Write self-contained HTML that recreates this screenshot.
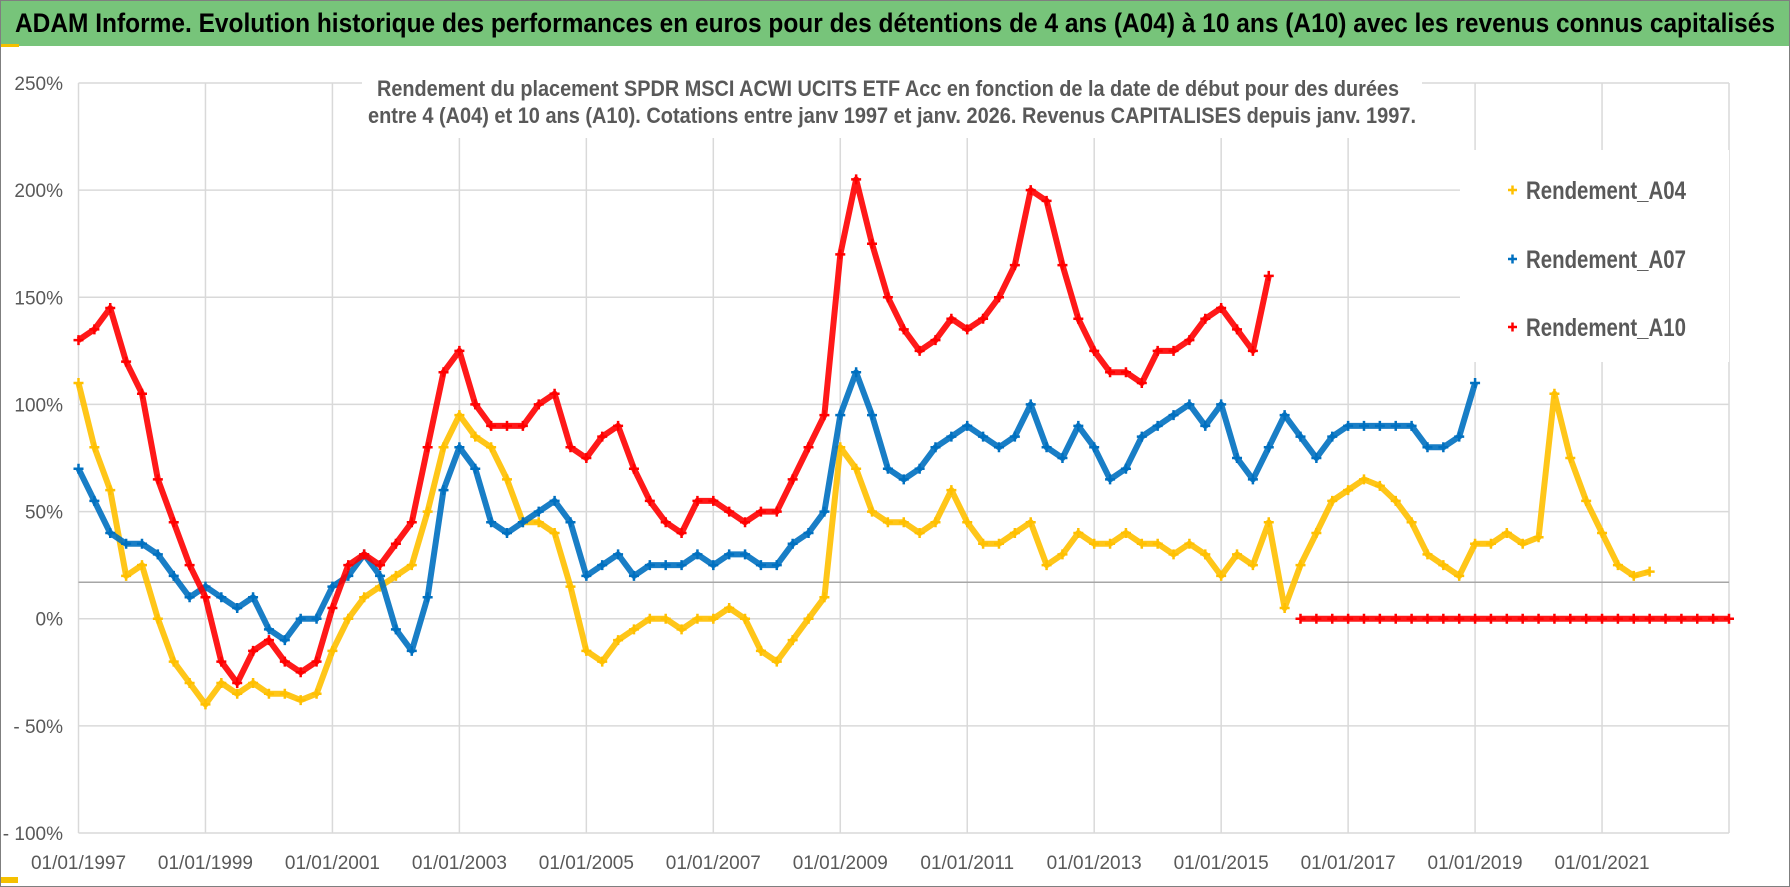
<!DOCTYPE html>
<html><head><meta charset="utf-8">
<style>
html,body{margin:0;padding:0;background:#fff;}
svg{display:block;font-family:"Liberation Sans Narrow","Liberation Sans",sans-serif;}
</style></head>
<body>
<svg id="chart" width="1790" height="887" viewBox="0 0 1790 887">
<rect x="0.5" y="0.5" width="1789" height="886" fill="#fff" stroke="#7f7f7f"/>
<rect x="1" y="1" width="1788" height="45" fill="#77c47a"/>
<rect x="1" y="44" width="18" height="3" fill="#f5c000"/>
<text x="895" y="32" text-anchor="middle" font-size="27" font-weight="bold" fill="#000" textLength="1760" lengthAdjust="spacingAndGlyphs">ADAM Informe. Evolution historique des performances en euros pour des détentions de 4 ans (A04) à 10 ans (A10) avec les revenus connus capitalisés</text>
<rect x="1" y="877" width="17" height="6" fill="#f5c000"/>
<g id="grid"></g>
<g id="series"></g>
<rect x="362" y="72" width="1060" height="66" fill="#fff"/>
<text x="888" y="96" text-anchor="middle" font-size="22" font-weight="bold" fill="#595959" textLength="1022" lengthAdjust="spacingAndGlyphs">Rendement du placement SPDR MSCI ACWI UCITS ETF Acc en fonction de la date de début pour des durées</text>
<text x="892" y="123" text-anchor="middle" font-size="22" font-weight="bold" fill="#595959" textLength="1048" lengthAdjust="spacingAndGlyphs">entre 4 (A04) et 10 ans (A10). Cotations entre janv 1997 et janv. 2026. Revenus CAPITALISES depuis janv. 1997.</text>
<g id="legend"></g>
</svg>
<script>
const NS="http://www.w3.org/2000/svg";
const yTicks=[250,200,150,100,50,0,-50,-100];
const yTickLabels=["250%","200%","150%","100%","50%","0%","- 50%","- 100%"];
const xTicks=[1997,1999,2001,2003,2005,2007,2009,2011,2013,2015,2017,2019,2021,2023];
const xTickLabels=["01/01/1997","01/01/1999","01/01/2001","01/01/2003","01/01/2005","01/01/2007","01/01/2009","01/01/2011","01/01/2013","01/01/2015","01/01/2017","01/01/2019","01/01/2021",""];
const refLine=17;
// quarterly start dates from 1997.0
const startYear=1997, step=0.25;
const a04=[110,80,60,20,25,0,-20,-30,-40,-30,-35,-30,-35,-35,-38,-35,-15,0,10,15,20,25,50,80,95,85,80,65,45,45,40,15,-15,-20,-10,-5,0,0,-5,0,0,5,0,-15,-20,-10,0,10,80,70,50,45,45,40,45,60,45,35,35,40,45,25,30,40,35,35,40,35,35,30,35,30,20,30,25,45,5,25,40,55,60,65,62,55,45,30,25,20,35,35,40,35,38,105,75,55,40,25,20,22];
const a07=[70,55,40,35,35,30,20,10,15,10,5,10,-5,-10,0,0,15,20,30,20,-5,-15,10,60,80,70,45,40,45,50,55,45,20,25,30,20,25,25,25,30,25,30,30,25,25,35,40,50,95,115,95,70,65,70,80,85,90,85,80,85,100,80,75,90,80,65,70,85,90,95,100,90,100,75,65,80,95,85,75,85,90,90,90,90,90,80,80,85,110];
const a10=[130,135,145,120,105,65,45,25,10,-20,-30,-15,-10,-20,-25,-20,5,25,30,25,35,45,80,115,125,100,90,90,90,100,105,80,75,85,90,70,55,45,40,55,55,50,45,50,50,65,80,95,170,205,175,150,135,125,130,140,135,140,150,165,200,195,165,140,125,115,115,110,125,125,130,140,145,135,125,160,null,0,0,0,0,0,0,0,0,0,0,0,0,0,0,0,0,0,0,0,0,0,0,0,0,0,0,0,0];
const x0=78.5,x1=1729,yTop=83,yBot=833;
const X=d=>x0+(d-1997)/(2023-1997)*(x1-x0);
const Y=v=>yTop+(250-v)/350*(yBot-yTop);
const grid=document.getElementById('grid');
function mk(tag,attrs,parent){const e=document.createElementNS(NS,tag);for(const k in attrs)e.setAttribute(k,attrs[k]);parent.appendChild(e);return e;}
yTicks.forEach((v,i)=>{
  const l=mk('line',{x1:x0,x2:x1,y1:Y(v),y2:Y(v),stroke:'#d9d9d9','stroke-width':1.5},grid);
  
  
  const t=mk('text',{x:63,y:Y(v)+7,'text-anchor':'end','font-size':19,fill:'#595959'},grid);
  t.textContent=yTickLabels[i];
  
  
});
xTicks.forEach((d,i)=>{
  const l=mk('line',{x1:X(d),x2:X(d),y1:yTop,y2:yBot,stroke:'#d9d9d9','stroke-width':1.5},grid);
  
  
  const t=mk('text',{x:X(d),y:869,'text-anchor':'middle','font-size':19,fill:'#595959'},grid);
  t.textContent=xTickLabels[i];
  
  
});
const rl=mk('line',{x1:x0,x2:x1,y1:Y(refLine),y2:Y(refLine),stroke:'#a6a6a6','stroke-width':1.5},grid);


const ser=document.getElementById('series');
function drawSeries(vals,color,name){
  const g=mk('g',{},ser);
  
  
  let seg=[];
  const flush=()=>{if(seg.length>1){const p=mk('polyline',{points:seg.join(' '),fill:'none',stroke:color,'stroke-width':6,'stroke-linejoin':'round','opacity':0.9},g);}seg=[];};
  vals.forEach((v,i)=>{
    if(v===null){flush();return;}
    const x=X(startYear+i*step),y=Y(v);
    seg.push(x.toFixed(1)+','+y.toFixed(1));
    const m=mk('path',{d:`M${x-5},${y}h10M${x},${y-5}v10`,stroke:color,'stroke-width':2.5},g);
    
    
  });
  flush();
}
drawSeries(a04,'#ffc000','series-a04');
drawSeries(a07,'#0070c0','series-a07');
drawSeries(a10,'#ff0000','series-a10');
const leg=document.getElementById('legend');
mk('rect',{x:1460,y:150,width:269,height:212,fill:'#fff'},leg);
[['Rendement_A04','#ffc000',190],['Rendement_A07','#0070c0',259],['Rendement_A10','#ff0000',327]].forEach(([lab,c,y])=>{
  const m=mk('path',{d:`M${1508},${y}h9M${1512.5},${y-4.5}v9`,stroke:c,'stroke-width':2.5},leg);
  
  
  const t=mk('text',{x:1526,y:y+9,'font-size':25,'font-weight':'bold',fill:'#595959',textLength:160,lengthAdjust:'spacingAndGlyphs'},leg);
  t.textContent=lab;
  
  
});
</script>
</body></html>
